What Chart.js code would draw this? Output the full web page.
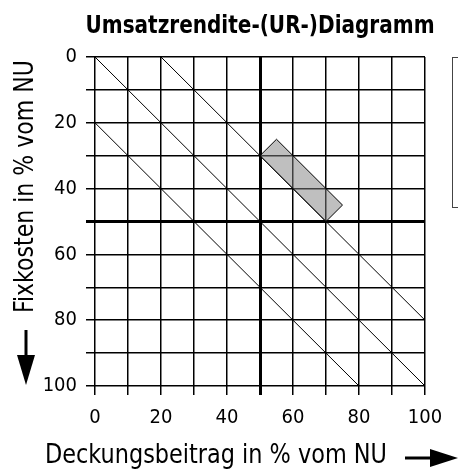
<!DOCTYPE html>
<html>
<head>
<meta charset="utf-8">
<script src="https://cdn.jsdelivr.net/npm/chart.js@4/dist/chart.umd.min.js"></script>
<style>
  html, body { margin: 0; padding: 0; background: #fff; }
  canvas { display: block; }
</style>
</head>
<body>
<canvas id="chart" width="458" height="472"></canvas>
<script>
// UR-Diagramm: Deckungsbeitrag (x) gegen Fixkosten (y), beide in % vom Nettoumsatz
const FONT = "'DejaVu Sans Condensed', 'Liberation Sans', sans-serif";

const xTickLabels = [0, 20, 40, 60, 80, 100];
const yTickLabels = [0, 20, 40, 60, 80, 100];

// Umsatzrendite-Linien (DB - FK = const)
const ur20X = [0, 80];
const ur20Y = [20, 100];
const ur0X = [0, 100];
const ur0Y = [0, 100];
const urMinus20X = [20, 100];
const urMinus20Y = [0, 80];

// Zielbereich
const zoneX = [50, 55, 75, 70, 50];
const zoneY = [30, 25, 45, 50, 30];

// Achsenkreuz bei 50 %
const crossX = 50;
const crossY = 50;

const toPoints = (xs, ys) => xs.map((x, i) => ({ x: x, y: ys[i] }));

const lineSet = (xs, ys) => ({
  data: toPoints(xs, ys),
  showLine: true,
  borderColor: "#000",
  borderWidth: 1,
  pointRadius: 0,
  fill: false,
});

// Titel, leerer Legendenrahmen rechts, Achsentitel mit Pfeilen.
// maxWidth bei fillText staucht die Schrift schmal zusammen.
const decorations = {
  id: "decorations",
  afterDraw(chart) {
    const ctx = chart.ctx;
    const area = chart.chartArea;
    ctx.save();

    ctx.fillStyle = "#000";
    ctx.textBaseline = "alphabetic";
    ctx.textAlign = "center";
    ctx.font = "bold 25px " + FONT;
    ctx.fillText("Umsatzrendite-(UR-)Diagramm", (area.left + area.right) / 2, 33, 349);

    ctx.strokeStyle = "#444";
    ctx.lineWidth = 1;
    ctx.strokeRect(452.5, area.top + 0.5, 20, 150);

    ctx.strokeStyle = "#000";
    ctx.font = "27px " + FONT;
    ctx.textAlign = "left";
    ctx.fillText("Deckungsbeitrag in % vom NU", 45, 463, 342);

    ctx.lineWidth = 3;
    ctx.beginPath();
    ctx.moveTo(405, 458);
    ctx.lineTo(432, 458);
    ctx.stroke();
    ctx.beginPath();
    ctx.moveTo(430, 449);
    ctx.lineTo(458, 458);
    ctx.lineTo(430, 467);
    ctx.closePath();
    ctx.fill();

    ctx.save();
    ctx.translate(33, 313);
    ctx.rotate(-Math.PI / 2);
    ctx.fillText("Fixkosten in % vom NU", 0, 0, 253);
    ctx.restore();

    ctx.beginPath();
    ctx.moveTo(26, 330);
    ctx.lineTo(26, 357);
    ctx.stroke();
    ctx.beginPath();
    ctx.moveTo(17, 355);
    ctx.lineTo(26, 385);
    ctx.lineTo(35, 355);
    ctx.closePath();
    ctx.fill();

    ctx.restore();
  },
};

const gridWidth = (value) => (ctx) =>
  ctx.tick && ctx.tick.value === value ? 3 : 1.5;

new Chart(document.getElementById("chart"), {
  type: "scatter",
  data: {
    datasets: [
      {
        data: toPoints(zoneX, zoneY),
        showLine: true,
        borderColor: "#000",
        borderWidth: 1,
        backgroundColor: "rgba(128, 128, 128, 0.5)",
        pointRadius: 0,
        fill: "shape",
      },
      lineSet(ur20X, ur20Y),
      lineSet(ur0X, ur0Y),
      lineSet(urMinus20X, urMinus20Y),
    ],
  },
  options: {
    responsive: false,
    animation: false,
    layout: { padding: { top: 57, right: 33, bottom: 0, left: 0 } },
    plugins: {
      legend: { display: false },
      tooltip: { enabled: false },
      title: { display: false },
    },
    scales: {
      x: {
        type: "linear",
        min: 0,
        max: 100,
        afterFit: (scale) => { scale.height = 86; },
        border: { display: false },
        grid: { color: "#000", lineWidth: gridWidth(crossX), tickLength: 9 },
        ticks: {
          stepSize: 10,
          autoSkip: false,
          maxRotation: 0,
          color: "#000",
          padding: 11,
          font: { family: FONT, size: 20 },
          callback: (v) => (xTickLabels.includes(v) ? String(v) : ""),
        },
      },
      y: {
        type: "linear",
        min: 0,
        max: 100,
        reverse: true,
        afterFit: (scale) => { scale.width = 95; },
        border: { display: false },
        grid: { color: "#000", lineWidth: gridWidth(crossY), tickLength: 9 },
        ticks: {
          stepSize: 10,
          autoSkip: false,
          color: "#000",
          padding: 9,
          font: { family: FONT, size: 20 },
          callback: (v) => (yTickLabels.includes(v) ? String(v) : ""),
        },
      },
    },
  },
  plugins: [decorations],
});
</script>
</body>
</html>
